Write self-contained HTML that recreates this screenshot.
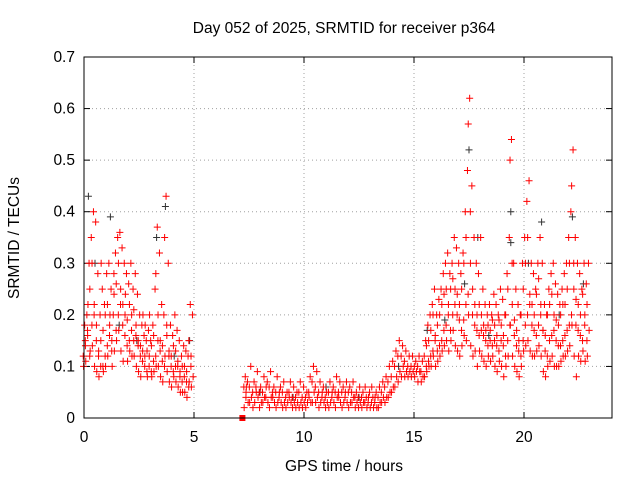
<!DOCTYPE html>
<html><head><meta charset="utf-8"><style>
body{margin:0;background:#fff}
svg text{font-family:"Liberation Sans",sans-serif;font-size:15.5px;fill:#000}
</style></head><body>
<svg id="c" width="640" height="480" xmlns="http://www.w3.org/2000/svg">
<rect width="640" height="480" fill="#fff"/>
<text x="344" y="33" text-anchor="middle">Day 052 of 2025, SRMTID for receiver p364</text>
<text x="344" y="471" text-anchor="middle">GPS time / hours</text>
<text x="0" y="0" transform="translate(19,238) rotate(-90)" text-anchor="middle">SRMTID / TECUs</text>
<g id="grid"></g><g id="axes"></g><g id="marks"></g>
<rect x="84" y="57" width="528" height="361" fill="none" stroke="#000" stroke-width="1"/>
</svg>
<script>
const xTicks=[0,5,10,15,20];
const yTicks=[0,0.1,0.2,0.3,0.4,0.5,0.6,0.7];
const yTickLabels=["0","0.1","0.2","0.3","0.4","0.5","0.6","0.7"];
// each entry: [hour, value, value, ...] (multiple satellites per epoch)
const redMorning=[
[0.0,.18,.12,.15,.10],[0.1,.2,.14,.17,.11],[0.2,.3,.16,.12,.22],[0.3,.35,.25,.18,.13],[0.4,.4,.3,.2,.14],
[0.5,.38,.22,.15,.1],[0.6,.28,.18,.12,.09],[0.7,.2,.13,.1,.08],[0.8,.25,.15,.1,.3],[0.9,.22,.17,.12,.09],
[1.0,.28,.2,.14,.1],[1.1,.3,.22,.16,.12],[1.2,.25,.18,.13,.2],[1.3,.2,.15,.28,.1],[1.4,.32,.24,.17,.13],
[1.5,.35,.26,.2,.15],[1.6,.36,.3,.22,.17],[1.7,.33,.25,.18,.13],[1.8,.3,.22,.16,.11],[1.9,.28,.2,.14,.24],
[2.0,.26,.19,.15,.11],[2.1,.3,.22,.17,.13],[2.2,.25,.2,.15,.12],[2.3,.28,.21,.16,.12],[2.4,.24,.18,.14,.1],
[2.5,.2,.15,.12,.09],[2.6,.18,.14,.11,.08],[2.7,.16,.13,.1,.2],[2.8,.15,.12,.09,.18],[2.9,.17,.13,.1,.08],
[3.0,.15,.12,.09,.2],[3.1,.18,.14,.11,.08],[3.2,.25,.16,.12,.09],[3.3,.37,.28,.15,.1],[3.4,.32,.2,.13,.1],
[3.5,.22,.15,.11,.08],[3.6,.2,.14,.1,.07],[3.7,.43,.35,.18,.12],[3.8,.3,.16,.12,.09],[3.9,.18,.13,.1,.07],
[4.0,.16,.12,.09,.06],[4.1,.2,.14,.1,.08],[4.2,.17,.13,.1,.07],[4.3,.15,.11,.08,.06],[4.4,.12,.09,.07,.05],
[4.5,.14,.1,.08,.05],[4.6,.13,.1,.07,.05],[4.7,.12,.09,.06,.04],[4.8,.22,.15,.1,.07],[4.9,.2,.12,.08,.06]];
const redMidday=[
[7.3,.08,.06,.04,.02],[7.4,.07,.05,.03,.06],[7.55,.1,.06,.04,.03],[7.7,.07,.05,.03,.02],[7.85,.09,.06,.04,.05],
[8.0,.06,.05,.03,.02],[8.15,.08,.05,.04,.03],[8.3,.07,.04,.03,.06],[8.45,.09,.06,.04,.02],[8.6,.06,.05,.03,.04],
[8.75,.08,.05,.03,.02],[8.9,.06,.04,.03,.05],[9.05,.07,.05,.03,.02],[9.2,.05,.04,.03,.02],[9.35,.07,.05,.03,.04],
[9.5,.06,.04,.03,.02],[9.65,.05,.04,.03,.02],[9.8,.07,.05,.03,.02],[9.95,.06,.04,.03,.02],[10.1,.05,.04,.03,.02],
[10.25,.08,.05,.03,.04],[10.4,.1,.07,.05,.03],[10.55,.09,.06,.04,.03],[10.7,.07,.05,.03,.02],[10.85,.06,.04,.03,.05],
[11.0,.05,.04,.03,.02],[11.15,.07,.05,.03,.02],[11.3,.06,.04,.03,.05],[11.45,.08,.05,.04,.02],[11.6,.07,.05,.03,.04],
[11.75,.06,.05,.03,.02],[11.9,.07,.04,.03,.05],[12.05,.06,.05,.03,.02],[12.2,.07,.05,.04,.03],[12.35,.05,.04,.03,.02],
[12.5,.06,.04,.03,.02],[12.65,.05,.04,.03,.02],[12.8,.04,.03,.02,.06],[12.95,.05,.03,.02,.04],[13.1,.04,.03,.02,.06],
[13.25,.05,.03,.02,.04],[13.4,.06,.04,.03,.02],[13.55,.07,.05,.04,.03],[13.7,.08,.06,.04,.03],[13.85,.1,.07,.05,.04],
[14.0,.11,.08,.06,.05],[14.15,.13,.1,.08,.06],[14.3,.15,.12,.09,.07],[14.45,.14,.12,.1,.08],[14.6,.13,.11,.09,.08],
[14.75,.12,.1,.09,.08],[14.9,.12,.1,.09,.08],[15.05,.11,.1,.09,.08],[15.2,.12,.1,.09,.07],[15.35,.11,.09,.08,.07]];
const redEvening=[
[15.5,.15,.12,.1,.08],[15.6,.18,.14,.11,.09],[15.7,.2,.15,.12,.1],[15.8,.22,.17,.13,.1],[15.9,.25,.2,.15,.12],
[16.0,.2,.16,.13,.1],[16.1,.23,.18,.14,.11],[16.2,.25,.2,.15,.12],[16.3,.28,.22,.17,.13],[16.4,.3,.24,.18,.14],
[16.5,.32,.25,.2,.15],[16.6,.28,.22,.17,.13],[16.7,.3,.25,.2,.15],[16.8,.35,.27,.22,.17],[16.9,.33,.25,.2,.14],
[17.0,.3,.24,.19,.13],[17.1,.28,.22,.17,.12],[17.2,.32,.25,.19,.14],[17.3,.4,.3,.22,.16],[17.4,.48,.35,.24,.15],
[17.5,.62,.57,.4,.2],[17.6,.45,.3,.2,.14],[17.7,.35,.25,.18,.12],[17.8,.3,.22,.17,.13],[17.9,.28,.2,.16,.1],
[18.0,.35,.22,.17,.13],[18.1,.25,.2,.16,.12],[18.2,.22,.18,.15,.11],[18.3,.2,.17,.14,.1],[18.4,.22,.18,.15,.12],
[18.5,.2,.17,.14,.11],[18.6,.24,.19,.15,.12],[18.7,.22,.18,.14,.1],[18.8,.2,.16,.13,.09],[18.9,.25,.19,.15,.11],
[19.0,.23,.18,.14,.1],[19.1,.2,.16,.12,.08],[19.2,.28,.2,.15,.1],[19.3,.35,.25,.18,.12],[19.4,.54,.5,.3,.18],
[19.5,.3,.22,.16,.12],[19.6,.25,.19,.14,.1],[19.7,.22,.17,.13,.09],[19.8,.2,.15,.12,.08],[19.9,.3,.2,.15,.1],
[20.0,.35,.25,.18,.13],[20.1,.42,.3,.2,.14],[20.2,.46,.35,.22,.15],[20.3,.3,.24,.18,.13],[20.4,.28,.22,.17,.12],
[20.5,.25,.2,.16,.12],[20.6,.3,.24,.18,.13],[20.7,.35,.27,.2,.14],[20.8,.3,.22,.17,.12],[20.9,.22,.17,.13,.09],
[21.0,.2,.16,.12,.08],[21.1,.25,.2,.15,.1],[21.2,.28,.22,.16,.11],[21.3,.3,.24,.17,.12],[21.4,.26,.2,.15,.1],
[21.5,.24,.19,.14,.1],[21.6,.22,.18,.14,.1],[21.7,.25,.2,.15,.11],[21.8,.28,.22,.16,.12],[21.9,.3,.22,.17,.12],
[22.0,.35,.25,.18,.13],[22.1,.4,.3,.2,.14],[22.2,.52,.45,.3,.18],[22.3,.35,.25,.18,.12],[22.4,.3,.23,.17,.08],
[22.5,.28,.22,.16,.12],[22.6,.25,.2,.15,.11],[22.7,.3,.24,.18,.13],[22.8,.26,.2,.15,.11],[22.9,.3,.22,.17,.12]];
const blackPoints=[
[0.2,.43],[0.5,.3],[1.2,.39],[1.6,.18],[2.4,.15],[3.3,.35],[3.7,.41],[4.1,.12],[4.8,.15],
[8.0,.05],[9.5,.04],[11.0,.06],[12.5,.04],[14.3,.1],[15.6,.17],[16.4,.19],[17.3,.26],[17.5,.52],
[17.9,.35],[18.4,.16],[19.4,.4],[19.4,.34],[20.2,.3],[20.8,.38],[21.6,.2],[22.2,.39],[22.7,.26]];
const squarePoints=[[7.2,0]];

const X0=84,X1=612,Y0=418,Y1=57,XMAX=24,YMAX=0.7;
const xs=h=>X0+(h/XMAX)*(X1-X0);
const ys=v=>Y0-(v/YMAX)*(Y0-Y1);
const satOffset=[0,0.03,-0.035,0.06,-0.02];
const NS="http://www.w3.org/2000/svg";
const grid=document.getElementById('grid'),axes=document.getElementById('axes'),marks=document.getElementById('marks');
function el(tag,attrs,parent){const e=document.createElementNS(NS,tag);for(const k in attrs)e.setAttribute(k,attrs[k]);parent.appendChild(e);return e;}
yTicks.forEach((v,i)=>{
  const y=ys(v);
  if(i>0&&i<yTicks.length-1){const g=el('line',{x1:X0,x2:X1,y1:y,y2:y,stroke:'#a0a0a0','stroke-dasharray':'1,3'},grid);
  
  }
  const t=el('text',{x:X0-9,y:y+5,'text-anchor':'end'},axes);t.textContent=yTickLabels[i];
  
  
  el('line',{x1:X0,x2:X0+6,y1:y,y2:y,stroke:'#000'},axes);
  el('line',{x1:X1,x2:X1-6,y1:y,y2:y,stroke:'#000'},axes);
});
xTicks.forEach((h,i)=>{
  const x=xs(h);
  if(i>0){const g=el('line',{x1:x,x2:x,y1:Y0,y2:Y1,stroke:'#a0a0a0','stroke-dasharray':'1,3'},grid);
  
  }
  const t=el('text',{x:x,y:Y0+24,'text-anchor':'middle'},axes);t.textContent=String(h);
  
  
  el('line',{x1:x,x2:x,y1:Y0,y2:Y0-6,stroke:'#000'},axes);
  el('line',{x1:x,x2:x,y1:Y1,y2:Y1+6,stroke:'#000'},axes);
});
function plus(h,v,color,name){
  const x=xs(h),y=ys(v);
  const p=el('path',{d:`M${x-3.5},${y}h7M${x},${y-3.5}v7`,stroke:color,'stroke-width':1,fill:'none'},marks);
  
  
}
blackPoints.forEach(r=>{for(let k=1;k<r.length;k++)plus(r[0],r[k],'#333','black-point');});
[redMorning,redMidday,redEvening].forEach(arr=>arr.forEach(r=>{for(let k=1;k<r.length;k++)plus(r[0]+satOffset[k%satOffset.length],r[k],'#f00','red-point');}));
squarePoints.forEach(r=>{
  const s=el('rect',{x:xs(r[0])-3,y:ys(r[1])-3,width:6,height:6,fill:'#f00'},marks);
  
  
});
</script>
</body></html>
